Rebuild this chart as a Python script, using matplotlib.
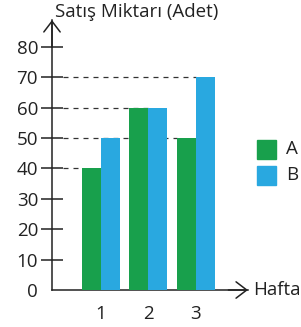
import matplotlib
matplotlib.use("Agg")
import matplotlib.pyplot as plt
from matplotlib.patches import Rectangle

weeks = ["1", "2", "3"]
series_a = [40, 60, 50]
series_b = [50, 60, 70]
yticks = [0, 10, 20, 30, 40, 50, 60, 70, 80]
title = "Satış Miktarı (Adet)"
xlabel = "Hafta"
green = "#18a04c"
blue = "#29a8e0"

plt.rcParams['font.family'] = ['Open Sans', 'DejaVu Sans']

W, H = 301, 327
fig = plt.figure(figsize=(W / 100, H / 100), dpi=100)
# axes in pixel coordinates
x0, x1 = 52, 248
y0, y1 = 290, 20
ax = fig.add_axes([x0 / W, 1 - y0 / H, (x1 - x0) / W, (y0 - y1) / H])
ax.patch.set_alpha(0)

ppu_x = 47.5
ppu_y = 3.04
ax.set_xlim(-1 / ppu_x, (x1 - x0 - 1) / ppu_x)
ax.set_ylim(0, (y0 - y1) / ppu_y)

pos = [1, 2, 3]
bw = 0.4
ax.bar([p - bw / 2 for p in pos], series_a, width=bw, color=green, zorder=3)
ax.bar([p + bw / 2 for p in pos], series_b, width=bw, color=blue, zorder=3)

# dashed guide lines from axis to the farthest bar with that value
targets = {}
for p, a, b in zip(pos, series_a, series_b):
    for v, left in ((a, p - bw), (b, p)):
        targets[v] = max(targets.get(v, 0), left)
for v, left in targets.items():
    ax.plot([0.22, left], [v, v], linestyle=(0, (4, 4)), color="#333333", lw=0.9, zorder=2)

for s in ["top", "right"]:
    ax.spines[s].set_visible(False)
for s in ["left", "bottom"]:
    ax.spines[s].set_linewidth(1.1)
    ax.spines[s].set_color("#222222")

fs = 13.5
ax.set_yticks(yticks)
ax.set_yticklabels([str(t) for t in yticks], fontsize=fs, color="#222222")
ax.tick_params(axis="y", direction="inout", length=16, width=1.1, color="#222222", pad=2)
ax.yaxis.get_major_ticks()[0].tick1line.set_visible(False)
ax.set_xticks(pos)
ax.set_xticklabels(weeks, fontsize=fs, color="#222222")
ax.tick_params(axis="x", length=0, pad=11)

# arrows
astyle = "->,head_length=0.55,head_width=0.42"
ax.annotate("", xy=(1.0, 0), xycoords="axes fraction", xytext=(0.9, 0),
            arrowprops=dict(arrowstyle=astyle, lw=1.1, color="#222222", mutation_scale=14,
                            shrinkA=0, shrinkB=0))
ax.annotate("", xy=(0, 1.0), xycoords="axes fraction", xytext=(0, 0.9),
            arrowprops=dict(arrowstyle=astyle, lw=1.1, color="#222222", mutation_scale=14,
                            shrinkA=0, shrinkB=0))

fig.text(55 / W, 1 - 12 / H, title, fontsize=fs, va="center", ha="left", color="#222222")
fig.text(253 / W, 1 - 290 / H, xlabel, fontsize=fs, va="center", ha="left", color="#222222")

# legend
for i, (lab, col) in enumerate([("A", green), ("B", blue)]):
    top = 140 + i * 26
    fig.patches.append(Rectangle((257 / W, 1 - (top + 19) / H), 19 / W, 19 / H,
                                 transform=fig.transFigure, color=col, figure=fig))
    fig.text(286 / W, 1 - (top + 9.5) / H, lab, fontsize=fs, va="center", ha="left", color="#222222")

fig.savefig("out.png", dpi=100)
